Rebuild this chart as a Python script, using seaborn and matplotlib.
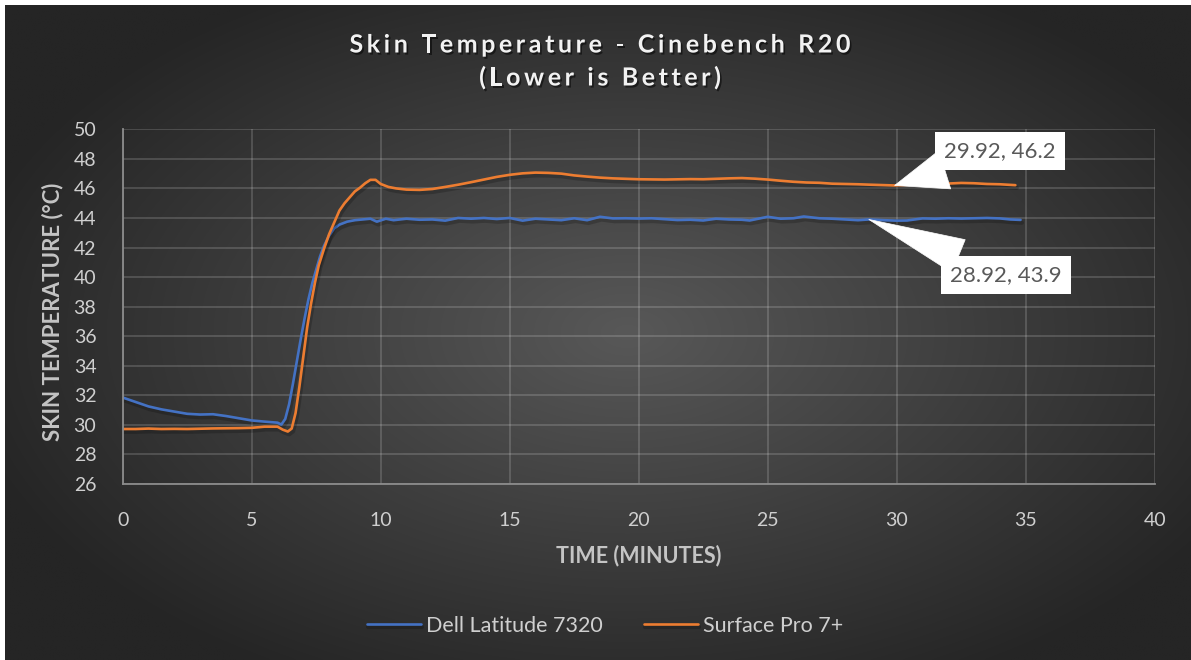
import numpy as np
import pandas as pd
import matplotlib
matplotlib.use("Agg")
import matplotlib.pyplot as plt
import matplotlib.patheffects as pe
from matplotlib.font_manager import FontProperties
import seaborn as sns

# Dell Latitude 7320 (minutes, degC)
dell_time = [0, 0.5, 1.0, 1.5, 2.0, 2.5, 3.0, 3.5, 4.0, 4.5, 5.0, 5.5, 6.0, 6.15, 6.3,
             6.45, 6.6, 6.75, 6.9, 7.05, 7.2, 7.35, 7.5, 7.65, 7.8, 8.0, 8.2, 8.4, 8.7,
             9.0, 9.3, 9.6, 9.85, 10.2, 10.5, 11.0, 11.5, 12.0, 12.5, 13.0, 13.5, 14.0,
             14.5, 15.0, 15.5, 16.0, 16.5, 17.0, 17.5, 18.0, 18.5, 19.0, 19.5, 20.0,
             20.5, 21.0, 21.5, 22.0, 22.5, 23.0, 23.5, 24.0, 24.3, 25.0, 25.5, 26.0,
             26.4, 27.0, 27.5, 28.0, 28.5, 28.92, 29.5, 30.0, 30.4, 31.0, 31.5, 32.0,
             32.5, 33.0, 33.5, 34.0, 34.4, 34.8]
dell_temp = [31.85, 31.55, 31.25, 31.05, 30.9, 30.75, 30.7, 30.72, 30.6, 30.45, 30.3,
             30.22, 30.15, 30.02, 30.4, 31.4, 32.8, 34.3, 35.8, 37.2, 38.5, 39.6, 40.5,
             41.4, 42.1, 42.8, 43.3, 43.55, 43.75, 43.85, 43.9, 43.95, 43.75, 43.95,
             43.85, 43.95, 43.88, 43.9, 43.82, 44.0, 43.95, 44.0, 43.93, 44.0, 43.82,
             43.95, 43.9, 43.85, 43.98, 43.85, 44.08, 43.97, 43.98, 43.96, 43.98, 43.92,
             43.86, 43.88, 43.83, 43.95, 43.9, 43.88, 43.83, 44.08, 43.95, 43.98, 44.1,
             43.98, 43.95, 43.9, 43.85, 43.9, 43.85, 43.82, 43.83, 43.97, 43.95, 43.98,
             43.96, 43.98, 44.0, 43.97, 43.9, 43.87]

# Surface Pro 7+ (minutes, degC)
surface_time = [0, 0.5, 1.0, 1.5, 2.0, 2.5, 3.0, 3.5, 4.0, 4.5, 5.0, 5.5, 6.0, 6.2, 6.4,
                6.55, 6.7, 6.85, 7.0, 7.15, 7.3, 7.45, 7.6, 7.8, 8.0, 8.2, 8.4, 8.6, 8.8,
                9.0, 9.2, 9.4, 9.6, 9.8, 10.0, 10.3, 10.6, 11.0, 11.5, 12.0, 12.5, 13.0,
                13.5, 14.0, 14.5, 15.0, 15.5, 16.0, 16.5, 17.0, 17.5, 18.0, 18.5, 19.0,
                19.5, 20.0, 21.0, 22.0, 22.5, 23.0, 23.5, 24.0, 24.5, 25.0, 25.5, 26.0,
                26.5, 27.0, 27.5, 28.0, 28.5, 29.0, 29.92, 30.5, 31.0, 31.5, 32.0, 32.5,
                33.0, 33.5, 34.0, 34.6]
surface_temp = [29.72, 29.72, 29.75, 29.72, 29.73, 29.72, 29.74, 29.76, 29.77, 29.78,
                29.8, 29.88, 29.88, 29.68, 29.55, 29.75, 30.8, 32.6, 34.6, 36.6, 38.2,
                39.6, 40.8, 41.9, 42.9, 43.7, 44.5, 45.0, 45.4, 45.8, 46.05, 46.35, 46.58,
                46.58, 46.3, 46.1, 46.0, 45.92, 45.9, 45.96, 46.1, 46.25, 46.42, 46.6,
                46.78, 46.92, 47.02, 47.07, 47.05, 47.0, 46.88, 46.8, 46.73, 46.68, 46.65,
                46.62, 46.6, 46.63, 46.62, 46.65, 46.68, 46.7, 46.66, 46.6, 46.52, 46.45,
                46.4, 46.38, 46.32, 46.3, 46.28, 46.25, 46.2, 46.25, 46.3, 46.35, 46.33,
                46.37, 46.35, 46.3, 46.28, 46.22]

series_names = ["Dell Latitude 7320", "Surface Pro 7+"]
series_colors = ["#4472C4", "#ED7D31"]
x_ticks = [0, 5, 10, 15, 20, 25, 30, 35, 40]
y_ticks = [26, 28, 30, 32, 34, 36, 38, 40, 42, 44, 46, 48, 50]
# labelled points: surface first, then dell
callout_x = [29.92, 28.92]
callout_y = [46.2, 43.9]

df = pd.concat([
    pd.DataFrame({"time": dell_time, "temp": dell_temp, "device": series_names[0]}),
    pd.DataFrame({"time": surface_time, "temp": surface_temp, "device": series_names[1]}),
], ignore_index=True)

sns.set_theme(style="dark")
plt.rcParams['font.family'] = ['Lato', 'DejaVu Sans']

W, H = 1191, 660
fig = plt.figure(figsize=(W / 100, H / 100), dpi=100, facecolor="white")

# radial background like the excel chart style
bg = fig.add_axes([5 / W, 0, 1 - 5 / W, 1 - 5 / H], zorder=0)
gx, gy = np.meshgrid(np.linspace(-1, 1, 600), np.linspace(-1, 1, 340))
r = np.clip(np.sqrt(((gx - 0.05) / 1.0) ** 2 + (gy / 1.05) ** 2) / 1.15, 0, 1)
c_in, c_out = np.array([0x58, 0x58, 0x58]) / 255, np.array([0x25, 0x25, 0x25]) / 255
img = c_in[None, None, :] * (1 - r[..., None]) + c_out[None, None, :] * r[..., None]
bg.imshow(img, aspect="auto", extent=[0, 1, 0, 1], interpolation="bilinear")
bg.axis("off")

ax = fig.add_axes([122.7 / W, 1 - 484 / H, 1032 / W, 354.7 / H], zorder=1)
ax.patch.set_alpha(0)

sns.lineplot(data=df, x="time", y="temp", hue="device", palette=dict(zip(series_names, series_colors)),
             linewidth=1.9, estimator=None, sort=False, ax=ax)
for ln in ax.lines:
    ln.set_path_effects([pe.SimpleLineShadow(offset=(1.0, -2.0), shadow_color="black", alpha=0.2, linewidth=3.0),
                         pe.Normal()])

ax.set_xlim(0, 40)
ax.set_ylim(26, 50)
ax.set_xticks(x_ticks)
ax.set_yticks(y_ticks)
ax.grid(True, color="white", alpha=0.17, linewidth=1.3)
ax.tick_params(axis="both", length=0, labelsize=14, labelcolor="#cfcfcf")
ax.tick_params(axis="x", pad=20)
ax.tick_params(axis="y", pad=19)
for s in ["top", "right"]:
    ax.spines[s].set_visible(False)
for s in ["left", "bottom"]:
    ax.spines[s].set_color("#8c8c8c")
    ax.spines[s].set_linewidth(1.3)

ax.set_xlabel("TIME (MINUTES)", fontsize=15.5, fontweight="bold", color="#c4c4c4")
ax.set_ylabel("SKIN TEMPERATURE (°C)", fontsize=16, fontweight="bold", color="#c4c4c4")
ax.xaxis.set_label_coords(0.5, -0.170)
ax.yaxis.set_label_coords(-0.0578, 0.485)

# legend under the plot
handles, labels = ax.get_legend_handles_labels()
ax.get_legend().remove()
fig.legend(handles, labels, loc="center", bbox_to_anchor=(605 / W, 1 - 626 / H), ncol=2, frameon=False,
           fontsize=15.5, labelcolor="#cfcfcf", handlelength=2.5, handletextpad=0.25, columnspacing=1.9)

# data callouts
box_pos = [(34.0, 48.54), (34.23, 40.14)]
rel = [(0.26, 0.0), (0.27, 1.0)]
tails = [1.8, 1.6]
for i in range(2):
    ax.annotate(f"{callout_x[i]}, {callout_y[i]}", xy=(callout_x[i], callout_y[i]), xytext=box_pos[i],
                textcoords="data", ha="center", va="center", fontsize=16, color="#595959", zorder=5,
                bbox=dict(boxstyle="square,pad=0.4", fc="white", ec="none"),
                arrowprops=dict(arrowstyle=f"wedge,tail_width={tails[i]},shrink_factor=0.5", fc="white",
                                ec="white", lw=0.5, relpos=rel[i], shrinkA=0, shrinkB=0))


# title with letter spacing
def spaced_title(text, cx, baseline_px, size, spacing):
    prop = FontProperties(family="Lato", weight="bold", size=size)
    rend = fig.canvas.get_renderer()

    def wpx(s):
        w, _, _ = rend.get_text_width_height_descent(s, prop, ismath=False)
        return w

    widths = [wpx("x" + ch + "x") - wpx("xx") for ch in text]
    total = sum(widths) + spacing * (len(text) - 1)
    x = cx - total / 2
    for ch, w in zip(text, widths):
        fig.text(x / W, 1 - baseline_px / H, ch, fontproperties=prop, color="#f2f2f2", va="baseline",
                 ha="left", path_effects=[pe.withSimplePatchShadow(offset=(1.2, -1.5), shadow_rgbFace="black",
                                                                   alpha=0.5)])
        x += w + spacing


spaced_title("Skin Temperature - Cinebench R20", 600, 52.5, 18, 3.6)
spaced_title("(Lower is Better)", 600, 85.5, 18, 3.6)

fig.savefig("out.png", dpi=100, facecolor=fig.get_facecolor())
